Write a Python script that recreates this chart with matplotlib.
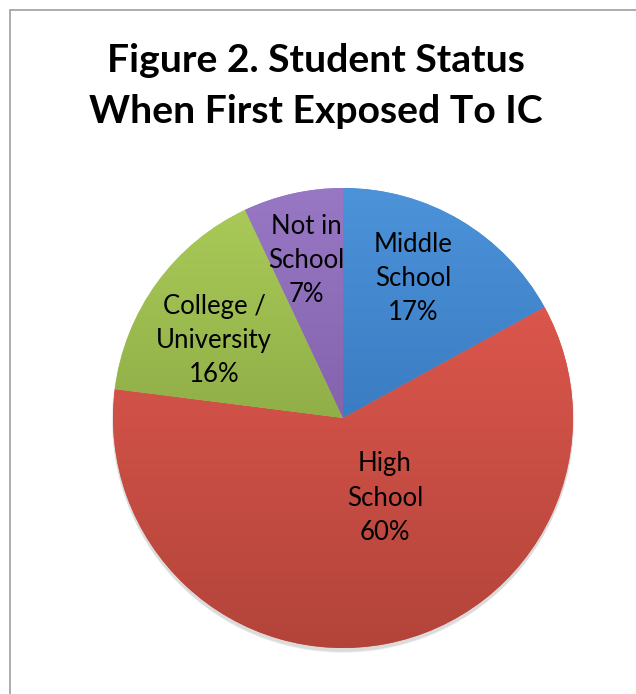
import numpy as np
import matplotlib.pyplot as plt
from matplotlib.colors import to_rgb

# student status when first exposed to IC
categories = ['Middle\nSchool', 'High\nSchool', 'College /\nUniversity', 'Not in\nSchool']
shares = [17, 60, 16, 7]
top_colors = ['#4C93DA', '#DB564C', '#A9CA58', '#9878C4']
bottom_colors = ['#3B7CC2', '#B3443A', '#90AF48', '#8462AE']
title = 'Figure 2. Student Status\nWhen First Exposed To IC'

W, H = 636, 694
cx, cy, R = 343, H - 418, 230
# label anchor points (pixels, y measured from top)
label_xy = [(413, 278), (385, 498), (214, 340), (306, 260)]

plt.rcParams['font.family'] = ['Lato', 'DejaVu Sans']

fig = plt.figure(figsize=(W / 100, H / 100), dpi=100)
ax = fig.add_axes([0, 0, 1, 1])
ax.set_xlim(0, W)
ax.set_ylim(0, H)
ax.axis('off')

# soft shadow under the pie
for i in range(6):
    sh = plt.Circle((cx, cy - 2 - i * 0.6), R + 1.5 - i * 0.3, color='#000000',
                    alpha=0.025, lw=0, zorder=0.5)
    ax.add_patch(sh)

wedges, _ = ax.pie(shares, startangle=90, counterclock=False, radius=R,
                   center=(cx, cy), colors=top_colors,
                   wedgeprops=dict(linewidth=0))
ax.set_xlim(0, W)
ax.set_ylim(0, H)
ax.set_aspect('auto')

# vertical gradient fill per wedge
for w, c_top, c_bot in zip(wedges, top_colors, bottom_colors):
    t1, t2 = np.deg2rad(w.theta1), np.deg2rad(w.theta2)
    th = np.linspace(t1, t2, 200)
    ys = np.concatenate([[cy], cy + R * np.sin(th)])
    y0, y1 = ys.min(), ys.max()
    n = 256
    t = np.linspace(0, 1, n)[:, None]
    grad = (1 - t) * np.array(to_rgb(c_top)) + t * np.array(to_rgb(c_bot))
    img = ax.imshow(grad[:, None, :], extent=(cx - R, cx + R, y0, y1),
                    origin='upper', aspect='auto', interpolation='bilinear', zorder=2)
    img.set_clip_path(w)
ax.set_xlim(0, W)
ax.set_ylim(0, H)

for lab, pct, (lx, ly) in zip(categories, shares, label_xy):
    ax.text(lx, H - ly, f'{lab}\n{pct}%', ha='center', va='center',
            fontsize=18.5, color='#000000', linespacing=1.45, zorder=5)

ax.text(316, H - 86, title, ha='center', va='center', fontsize=28.2,
        fontweight='bold', color='#000000', linespacing=1.55, zorder=5)

# chart area border
ax.plot([9.5, 9.5, W + 5], [-5, H - 9.5, H - 9.5], color='#A6A6A6', lw=1.3,
        solid_joinstyle='miter', zorder=6)

fig.savefig('out.png', dpi=100)
